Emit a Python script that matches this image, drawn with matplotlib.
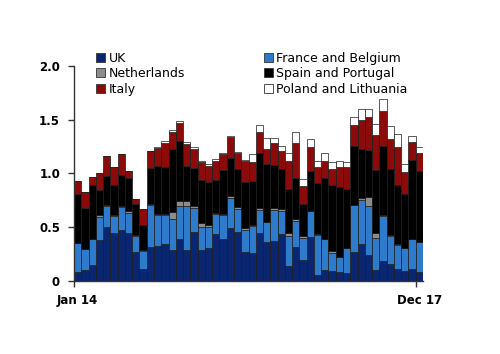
import matplotlib
matplotlib.use("Agg")
import matplotlib.pyplot as plt
import numpy as np
from matplotlib.patches import Patch

# Cumulative tops, converted to segment sizes below
uk = [0.085, 0.10, 0.15, 0.38, 0.50, 0.45, 0.47, 0.45, 0.27, 0.11, 0.32, 0.33,
      0.34, 0.29, 0.39, 0.29, 0.455, 0.29, 0.31, 0.44, 0.395, 0.49, 0.46, 0.27,
      0.265, 0.45, 0.36, 0.37, 0.435, 0.14, 0.32, 0.20, 0.405, 0.06, 0.10, 0.09,
      0.087, 0.075, 0.27, 0.34, 0.24, 0.10, 0.19, 0.155, 0.11, 0.09, 0.11, 0.085]
fb_top = [0.355, 0.30, 0.39, 0.595, 0.695, 0.605, 0.69, 0.635, 0.42, 0.275, 0.71, 0.615,
          0.61, 0.58, 0.70, 0.695, 0.68, 0.50, 0.50, 0.62, 0.61, 0.77, 0.67, 0.47,
          0.51, 0.665, 0.545, 0.66, 0.65, 0.42, 0.56, 0.40, 0.65, 0.43, 0.39, 0.26,
          0.225, 0.31, 0.705, 0.755, 0.70, 0.40, 0.60, 0.42, 0.335, 0.31, 0.39, 0.365]
nl_top = [0.355, 0.30, 0.39, 0.61, 0.71, 0.615, 0.70, 0.65, 0.43, 0.285, 0.72, 0.625,
          0.62, 0.64, 0.74, 0.745, 0.695, 0.54, 0.52, 0.63, 0.625, 0.79, 0.685, 0.49,
          0.525, 0.675, 0.55, 0.675, 0.67, 0.45, 0.575, 0.42, 0.655, 0.44, 0.395, 0.28,
          0.225, 0.31, 0.71, 0.775, 0.78, 0.45, 0.615, 0.425, 0.34, 0.31, 0.39, 0.365]
sp_top = [0.81, 0.68, 0.89, 0.85, 0.98, 0.89, 0.99, 0.955, 0.715, 0.525, 1.05, 1.07,
          1.06, 1.23, 1.30, 1.07, 1.055, 0.94, 0.92, 0.94, 1.035, 1.14, 1.04, 0.92,
          0.93, 1.19, 1.09, 1.075, 1.04, 0.86, 0.96, 0.715, 1.025, 0.91, 0.96, 0.89,
          0.875, 0.86, 1.26, 1.23, 1.215, 1.03, 1.26, 1.04, 0.895, 0.81, 1.125, 1.02]
it_top = [0.93, 0.825, 0.97, 1.00, 1.16, 1.06, 1.18, 1.02, 0.765, 0.67, 1.21, 1.24,
          1.285, 1.39, 1.47, 1.27, 1.23, 1.105, 1.07, 1.12, 1.185, 1.34, 1.19, 1.115,
          1.11, 1.39, 1.23, 1.28, 1.21, 1.115, 1.28, 0.88, 1.25, 1.06, 1.12, 1.045,
          1.06, 1.06, 1.455, 1.50, 1.53, 1.36, 1.585, 1.325, 1.25, 1.015, 1.29, 1.19]
pl_top = [0.93, 0.825, 0.97, 1.00, 1.16, 1.06, 1.18, 1.025, 0.765, 0.67, 1.21, 1.245,
          1.30, 1.405, 1.49, 1.29, 1.245, 1.12, 1.085, 1.135, 1.195, 1.35, 1.20, 1.125,
          1.18, 1.455, 1.33, 1.33, 1.26, 1.19, 1.39, 0.95, 1.32, 1.12, 1.19, 1.105,
          1.12, 1.11, 1.53, 1.60, 1.60, 1.46, 1.69, 1.44, 1.37, 1.085, 1.35, 1.25]

x_labels = ["Jan 14", "Dec 17"]
y_ticks = [0, 0.5, 1.0, 1.5, 2.0]
y_tick_labels = ["0", "0.5", "1.0", "1.5", "2.0"]

names = ["UK", "France and Belgium", "Netherlands", "Spain and Portugal", "Italy",
         "Poland and Lithuania"]
colors = ["#0B2670", "#2F7BCB", "#8C8C8C", "#000000", "#8B0A0A", "#FFFFFF"]

tops = [np.array(uk), np.array(fb_top), np.array(nl_top), np.array(sp_top),
        np.array(it_top), np.array(pl_top)]
n = len(uk)
x = np.arange(n)

fig = plt.figure(figsize=(5.0, 3.54), dpi=100)
ax = fig.add_axes([0.148, 0.2062, 0.698, 0.6074])

bottom = np.zeros(n)
for top, name, col in zip(tops, names, colors):
    h = np.clip(top - bottom, 0, None)
    ax.bar(x, h, bottom=bottom, width=1.0, color=col, edgecolor="#1a1a1a",
           linewidth=0.5, label=name)
    bottom = np.maximum(bottom, top)

ax.set_xlim(-0.5, n - 0.5)
ax.set_ylim(0, 2.0)
for s in ["top", "right"]:
    ax.spines[s].set_visible(False)
for s in ["left", "bottom"]:
    ax.spines[s].set_color("#333333")
    ax.spines[s].set_linewidth(1.0)

ax.set_yticks(y_ticks)
ax.set_yticklabels(y_tick_labels, fontsize=8.5, fontweight="bold")
ax.tick_params(axis="y", direction="out", length=4, width=1, color="#333333", pad=6)

ax.set_xticks([-0.5, n - 1.5])
ax.set_xticklabels([])
ax.tick_params(axis="x", direction="out", length=4, width=1, color="#333333")
ax.set_xticks([0, n - 1], minor=True)
ax.set_xticklabels(x_labels, minor=True, fontsize=8.5, fontweight="bold")
ax.tick_params(axis="x", which="minor", length=0, pad=9)

order = [0, 2, 4, 1, 3, 5]
handles = [Patch(facecolor=colors[i], edgecolor="#333333", linewidth=0.6) for i in order]
labels = [names[i] for i in order]
fig.legend(handles, labels, ncol=2, loc="upper left", bbox_to_anchor=(0.18, 0.872),
           frameon=False, fontsize=9, handlelength=0.7, handleheight=0.7,
           handletextpad=0.3, labelspacing=0.2, columnspacing=6.3, borderpad=0)

fig.savefig("out.png", dpi=100)
